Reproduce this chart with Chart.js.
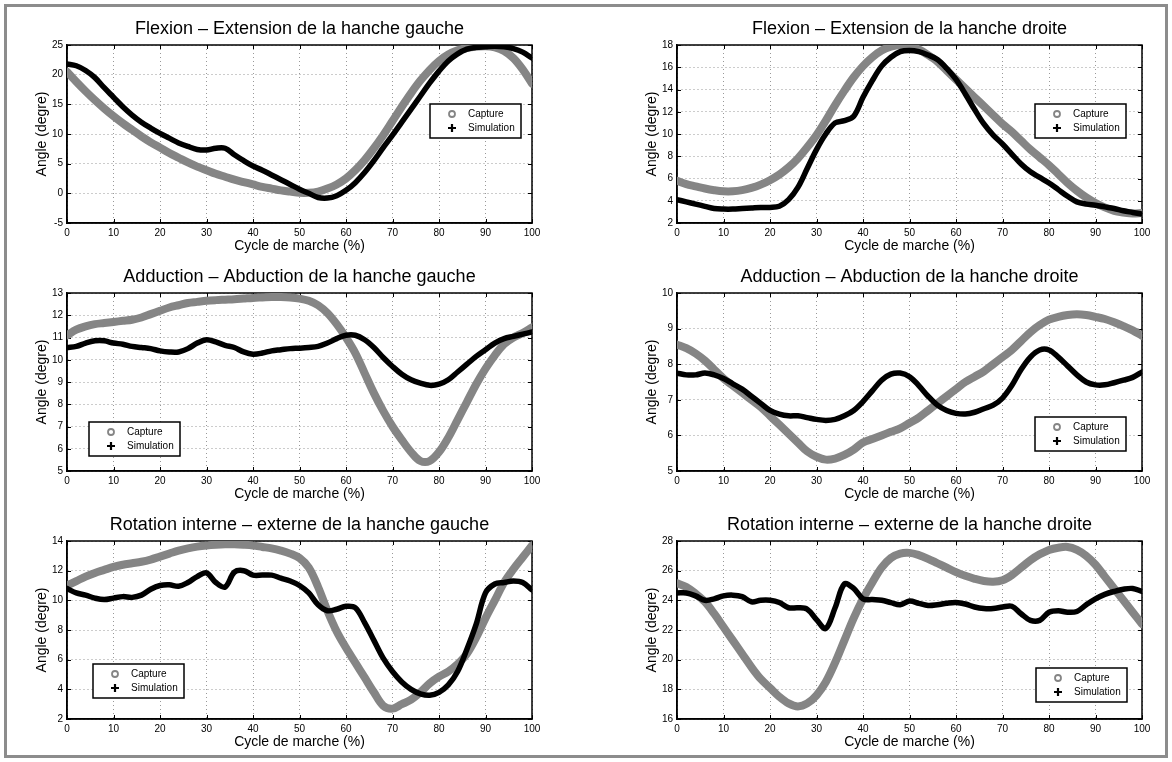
<!DOCTYPE html>
<html>
<head>
<meta charset="utf-8">
<script src="https://cdn.jsdelivr.net/npm/chart.js@4.4.0/dist/chart.umd.min.js"></script>
<style>
body { margin:0; background:#fff; width:1172px; height:762px; position:relative; overflow:hidden; }
#frame { position:absolute; left:4px; top:4px; width:1158px; height:748px; border:3px solid #8c8c8c; }
canvas { position:absolute; }
</style>
</head>
<body>
<div id="frame"></div>
<canvas id="c1"></canvas>
<canvas id="c2"></canvas>
<canvas id="c3"></canvas>
<canvas id="c4"></canvas>
<canvas id="c5"></canvas>
<canvas id="c6"></canvas>
<script>
// gait cycle (%)
var xs = [0,2,4,6,8,10,12,14,16,18,20,22,24,26,28,30,32,34,36,38,40,42,44,46,48,50,
          52,54,56,58,60,62,64,66,68,70,72,74,76,78,80,82,84,86,88,90,92,94,96,98,100];

var flexG_capture = [20.5,18.8,17.2,15.7,14.3,13.0,11.8,10.7,9.6,8.6,7.7,6.8,6.0,5.2,4.5,3.9,3.3,2.8,2.3,1.9,1.5,1.1,0.8,0.5,0.3,0.1,
                     0.1,0.3,0.8,1.5,2.5,3.9,5.6,7.6,9.8,12.2,14.6,16.9,19.0,20.8,22.3,23.4,24.1,24.5,24.7,24.8,24.6,24.0,22.8,20.9,18.5];
var flexG_sim = [21.8,21.5,20.7,19.5,17.8,16.2,14.6,13.2,12.0,11.0,10.1,9.3,8.5,7.9,7.4,7.3,7.6,7.6,6.5,5.5,4.6,3.9,3.1,2.3,1.5,0.7,
                 0.0,-0.7,-0.8,-0.4,0.5,1.8,3.5,5.5,7.7,9.8,12.0,14.2,16.4,18.6,20.6,22.3,23.5,24.3,24.6,24.7,24.8,24.7,24.4,23.8,22.8];

var flexD_capture = [5.8,5.5,5.3,5.1,4.95,4.85,4.85,4.95,5.15,5.45,5.85,6.35,7.0,7.8,8.8,9.9,11.2,12.6,13.9,15.1,16.1,16.9,17.5,17.85,18.0,17.9,
                     17.6,17.1,16.5,15.7,14.9,14.1,13.3,12.5,11.7,10.9,10.2,9.4,8.6,7.9,7.2,6.4,5.6,4.9,4.3,3.8,3.4,3.1,2.95,2.85,2.9];
var flexD_sim = [4.1,3.9,3.7,3.5,3.3,3.25,3.25,3.3,3.35,3.4,3.4,3.5,4.1,5.2,6.9,8.6,10.0,11.0,11.2,11.6,13.3,14.8,16.1,16.9,17.4,17.5,
                 17.4,17.1,16.7,15.9,14.9,13.6,12.2,10.9,9.9,9.1,8.2,7.3,6.6,6.1,5.6,5.0,4.4,3.9,3.7,3.6,3.45,3.3,3.1,2.95,2.8];

var addG_capture = [11.1,11.35,11.5,11.6,11.65,11.7,11.75,11.8,11.9,12.05,12.2,12.35,12.45,12.55,12.6,12.65,12.68,12.7,12.72,12.75,12.78,12.8,12.82,12.82,12.8,12.75,
                    12.65,12.45,12.1,11.6,11.0,10.3,9.4,8.5,7.7,7.0,6.4,5.85,5.45,5.45,5.85,6.5,7.3,8.1,8.9,9.6,10.2,10.7,11.0,11.2,11.45];
var addG_sim = [10.55,10.6,10.75,10.85,10.85,10.75,10.7,10.6,10.55,10.5,10.4,10.35,10.35,10.5,10.75,10.9,10.8,10.65,10.55,10.35,10.25,10.3,10.4,10.45,10.5,10.52,
                10.55,10.6,10.75,10.95,11.1,11.1,10.9,10.55,10.1,9.7,9.35,9.1,8.95,8.85,8.9,9.1,9.45,9.8,10.15,10.45,10.75,10.95,11.05,11.15,11.25];

var addD_capture = [8.55,8.45,8.3,8.1,7.85,7.6,7.4,7.2,7.0,6.8,6.55,6.3,6.05,5.8,5.55,5.4,5.32,5.35,5.45,5.6,5.8,5.9,6.0,6.1,6.2,6.35,
                    6.5,6.7,6.9,7.1,7.3,7.5,7.65,7.8,8.0,8.2,8.4,8.65,8.9,9.1,9.25,9.33,9.38,9.4,9.38,9.33,9.27,9.18,9.07,8.95,8.8];
var addD_sim = [7.75,7.7,7.7,7.75,7.7,7.6,7.45,7.3,7.1,6.9,6.7,6.6,6.55,6.55,6.5,6.45,6.42,6.45,6.55,6.7,6.95,7.25,7.55,7.72,7.75,7.65,
                7.4,7.1,6.85,6.7,6.62,6.6,6.65,6.75,6.85,7.05,7.4,7.85,8.2,8.4,8.4,8.2,7.95,7.7,7.5,7.42,7.42,7.48,7.55,7.63,7.78];

var rotG_capture = [11.0,11.3,11.6,11.85,12.05,12.25,12.4,12.5,12.6,12.75,12.95,13.15,13.35,13.5,13.62,13.7,13.75,13.78,13.78,13.75,13.7,13.6,13.5,13.35,13.15,12.85,
                    12.2,10.9,9.3,7.9,6.8,5.8,4.8,3.8,2.9,2.7,3.0,3.3,3.8,4.4,4.85,5.2,5.7,6.4,7.5,8.8,10.0,11.2,12.1,12.9,13.7];
var rotG_sim = [10.8,10.5,10.35,10.15,10.05,10.15,10.25,10.2,10.35,10.75,11.0,11.05,10.95,11.2,11.6,11.85,11.2,10.9,11.9,12.0,11.7,11.7,11.7,11.5,11.3,11.0,
                10.5,9.7,9.3,9.4,9.6,9.5,8.5,7.3,6.1,5.2,4.5,4.0,3.7,3.6,3.8,4.3,5.2,6.7,8.4,10.5,11.1,11.2,11.3,11.2,10.7];

var rotD_capture = [25.15,24.9,24.45,23.9,23.1,22.2,21.3,20.4,19.5,18.7,18.1,17.5,17.05,16.85,17.05,17.6,18.5,19.8,21.3,22.8,24.1,25.2,26.2,26.85,27.15,27.2,
                    27.05,26.8,26.5,26.2,25.9,25.65,25.45,25.3,25.25,25.35,25.7,26.2,26.7,27.1,27.4,27.55,27.6,27.4,27.0,26.4,25.6,24.8,24.0,23.2,22.4];
var rotD_sim = [24.5,24.5,24.3,24.0,24.1,24.3,24.35,24.25,23.9,24.0,24.0,23.85,23.5,23.5,23.4,22.7,22.1,23.5,25.1,24.8,24.1,24.05,24.0,23.85,23.7,23.95,
                23.8,23.65,23.7,23.8,23.85,23.75,23.55,23.45,23.45,23.55,23.6,23.1,22.65,22.65,23.2,23.3,23.2,23.25,23.7,24.1,24.4,24.6,24.75,24.8,24.6];

var titles = [
  'Flexion \u2013 Extension de la hanche gauche',
  'Flexion \u2013 Extension de la hanche droite',
  'Adduction \u2013 Abduction de la hanche gauche',
  'Adduction \u2013 Abduction de la hanche droite',
  'Rotation interne \u2013 externe de la hanche gauche',
  'Rotation interne \u2013 externe de la hanche droite'
];
var yMins = [-5, 2, 5, 5, 2, 16];
var yMaxs = [25, 18, 13, 10, 14, 28];
var ySteps = [5, 2, 1, 1, 2, 2];
var legendLabels = ['Capture', 'Simulation'];

Chart.defaults.font.family = '"Liberation Sans", Arial, Helvetica, sans-serif';
Chart.defaults.color = '#000';

var GRAY = '#858585';
var PW = 465, PH = 178;
var panels = [
  {id:'c1', L:67,  T:45,  cap:flexG_capture, sim:flexG_sim, lg:[363, 59]},
  {id:'c2', L:677, T:45,  cap:flexD_capture, sim:flexD_sim, lg:[358, 59]},
  {id:'c3', L:67,  T:293, cap:addG_capture,  sim:addG_sim,  lg:[22, 129]},
  {id:'c4', L:677, T:293, cap:addD_capture,  sim:addD_sim,  lg:[358, 124]},
  {id:'c5', L:67,  T:541, cap:rotG_capture,  sim:rotG_sim,  lg:[26, 123]},
  {id:'c6', L:677, T:541, cap:rotD_capture,  sim:rotD_sim,  lg:[359, 127]}
];

// box around the axes + inward tick marks, like matlab
var boxPlugin = {
  id: 'boxPlugin',
  beforeDatasetsDraw: function(chart) {
    var a = chart.chartArea, ctx = chart.ctx;
    var sx = chart.scales.x, sy = chart.scales.y;
    ctx.save();
    ctx.strokeStyle = '#000';
    ctx.lineWidth = 1;
    ctx.beginPath();
    sx.ticks.forEach(function(t) {
      var px = Math.round(sx.getPixelForValue(t.value)) + 0.5;
      ctx.moveTo(px, a.bottom); ctx.lineTo(px, a.bottom - 4);
      ctx.moveTo(px, a.top); ctx.lineTo(px, a.top + 4);
    });
    sy.ticks.forEach(function(t) {
      var py = Math.round(sy.getPixelForValue(t.value)) + 0.5;
      ctx.moveTo(a.left, py); ctx.lineTo(a.left + 4, py);
      ctx.moveTo(a.right, py); ctx.lineTo(a.right - 4, py);
    });
    ctx.stroke();
    ctx.lineWidth = 1.5;
    ctx.strokeRect(a.left, a.top, a.right - a.left, a.bottom - a.top);
    ctx.restore();
  }
};

var legendPlugin = {
  id: 'boxLegend',
  afterDraw: function(chart, args, opts) {
    var a = chart.chartArea, ctx = chart.ctx;
    var x = a.left + opts.at[0], y = a.top + opts.at[1];
    var w = 91, h = 34;
    ctx.save();
    ctx.fillStyle = '#fff';
    ctx.fillRect(x, y, w, h);
    ctx.strokeStyle = '#000';
    ctx.lineWidth = 1.5;
    ctx.strokeRect(x, y, w, h);
    // capture marker
    ctx.strokeStyle = GRAY;
    ctx.lineWidth = 1.8;
    ctx.beginPath();
    ctx.arc(x + 22, y + 10, 3, 0, Math.PI * 2);
    ctx.stroke();
    // simulation marker
    ctx.strokeStyle = '#000';
    ctx.lineWidth = 2.2;
    ctx.beginPath();
    ctx.moveTo(x + 18, y + 24); ctx.lineTo(x + 26, y + 24);
    ctx.moveTo(x + 22, y + 20); ctx.lineTo(x + 22, y + 28);
    ctx.stroke();
    ctx.fillStyle = '#000';
    ctx.font = '10px "Liberation Sans", Arial, sans-serif';
    ctx.textBaseline = 'middle';
    ctx.fillText(opts.labels[0], x + 38, y + 10);
    ctx.fillText(opts.labels[1], x + 38, y + 24);
    ctx.restore();
  }
};

function pts(arr) {
  return xs.map(function(x, i) { return {x: x, y: arr[i]}; });
}

panels.forEach(function(p, k) {
  var cv = document.getElementById(p.id);
  var cw = PW + 67 + 25, ch = PH + 45 + 40;
  cv.width = cw; cv.height = ch;
  cv.style.left = (p.L - 67) + 'px';
  cv.style.top = (p.T - 45) + 'px';
  cv.style.width = cw + 'px';
  cv.style.height = ch + 'px';

  new Chart(cv.getContext('2d'), {
    type: 'line',
    data: {
      datasets: [{
        label: legendLabels[0],
        data: pts(p.cap),
        borderColor: GRAY,
        borderWidth: 8,
        pointRadius: 0,
        tension: 0.35,
        borderCapStyle: 'round',
        borderJoinStyle: 'round',
        order: 1
      }, {
        label: legendLabels[1],
        data: pts(p.sim),
        borderColor: '#000',
        borderWidth: 5.5,
        pointRadius: 0,
        tension: 0.35,
        borderCapStyle: 'round',
        borderJoinStyle: 'round',
        order: 0
      }]
    },
    options: {
      responsive: false,
      animation: false,
      devicePixelRatio: 1,
      events: [],
      layout: { padding: { left: 0, right: 25, top: 0, bottom: 0 } },
      plugins: {
        legend: { display: false },
        tooltip: { enabled: false },
        title: {
          display: true,
          fullSize: false,
          text: titles[k],
          font: { size: 18, weight: 'normal' },
          color: '#000',
          padding: { top: 18, bottom: 5.4 }
        },
        boxLegend: { at: p.lg, labels: legendLabels }
      },
      scales: {
        x: {
          type: 'linear',
          min: 0, max: 100,
          afterFit: function(s) { s.height = 40; },
          ticks: { stepSize: 10, font: { size: 10 }, padding: 4, color: '#000', maxRotation: 0 },
          grid: { color: '#999', lineWidth: 1, drawTicks: false },
          border: { color: '#000', width: 1.5, dash: [1, 3] },
          title: { display: true, text: 'Cycle de marche (%)', font: { size: 14 }, padding: { top: 0, bottom: 8.6 } }
        },
        y: {
          min: yMins[k], max: yMaxs[k],
          afterFit: function(s) { s.width = 67; },
          ticks: { stepSize: ySteps[k], font: { size: 10 }, padding: 4, color: '#000' },
          grid: { color: '#999', lineWidth: 1, drawTicks: false },
          border: { color: '#000', width: 1.5, dash: [1, 3] },
          title: { display: true, text: 'Angle (degre)', font: { size: 14 }, padding: { top: 33.6, bottom: 0 } }
        }
      }
    },
    plugins: [boxPlugin, legendPlugin]
  });
});
</script>
</body>
</html>
